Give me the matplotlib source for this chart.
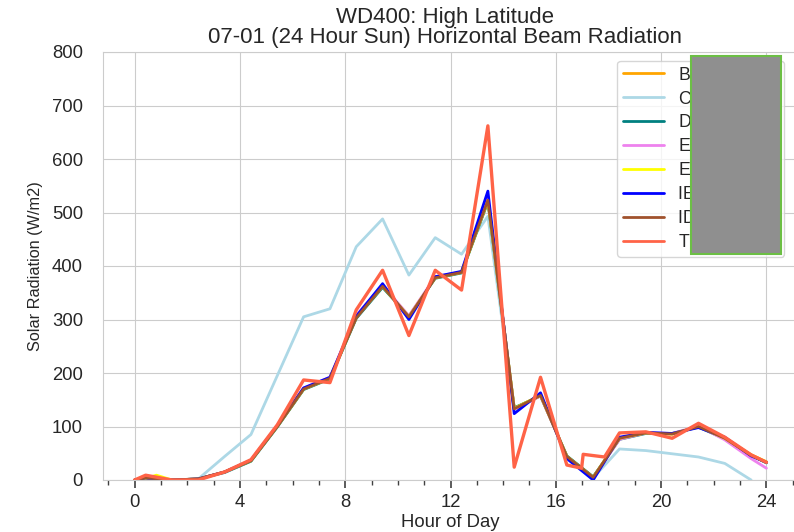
import matplotlib
matplotlib.use('Agg')
import matplotlib.pyplot as plt
import seaborn as sns
from matplotlib.patches import Rectangle
from matplotlib.ticker import MultipleLocator

# Hour of day for each reading (readings sit a little before the half hour)
HOURS = [0, 0.42, 1.42, 2.42, 3.42, 4.42, 5.42, 6.42, 7.42, 8.42, 9.42, 10.42,
         11.42, 12.42, 13.42, 14.42, 15.42, 16.42, 17.42, 18.42, 19.42, 20.42,
         21.42, 22.42, 23.42, 24]
C_HOURS = HOURS[:-1]
E2_HOURS = [0, 0.42, 0.83, 1.42, 2.42, 3.42, 4.42, 5.42, 6.42, 7.42, 8.42, 9.42,
            10.42, 11.42, 12.42, 13.42, 14.42, 15.42, 16.42, 17.42, 18.42, 19.42,
            20.42, 21.42, 22.42, 23.42, 24]
T_HOURS = [0, 0.42, 1.42, 2.42, 3.42, 4.42, 5.42, 6.42, 7.42, 8.42, 9.42, 10.42,
           11.42, 12.42, 13.42, 14.42, 15.42, 16.42, 16.98, 17.04, 17.85, 18.42,
           19.42, 20.42, 21.42, 22.42, 23.42, 24]

# Horizontal beam radiation (W/m2) per program
B = [0, 4, 0, 2, 15, 36, 100, 170, 190, 304, 362, 305, 378, 388, 522, 134, 158,
     44, 5, 78, 88, 86, 100, 78, 47, 34]
C = [0, 0, 0, 2, 44, 85, 195, 305, 320, 436, 488, 383, 453, 422, 493, 132, 158,
     44, 4, 58, 55, 49, 43, 31, 0]
D = [0, 3, 0, 2, 14, 35, 99, 169, 189, 302, 360, 306, 377, 387, 520, 135, 157,
     45, 6, 76, 87, 87, 99, 77, 46, 32]
E1 = [0, 4, 0, 2, 15, 37, 102, 172, 192, 308, 364, 307, 380, 389, 527, 132, 157,
      43, 4, 76, 88, 87, 101, 75, 40, 22]
E2 = [0, 3, 9, 0, 2, 15, 36, 100, 170, 190, 304, 362, 305, 378, 388, 522, 134,
      158, 44, 5, 78, 88, 86, 100, 78, 47, 34]
IE = [0, 4, 0, 2, 15, 37, 101, 172, 192, 306, 367, 300, 380, 390, 540, 124, 163,
      40, 0, 80, 89, 87, 98, 80, 45, 33]
ID = [0, 4, 0, 2, 15, 36, 100, 170, 190, 303, 362, 305, 378, 388, 523, 133, 158,
      44, 5, 78, 88, 86, 100, 78, 46, 33]
T = [0, 9, 0, 0, 15, 38, 103, 187, 182, 318, 392, 270, 392, 355, 662, 24, 192,
     28, 22, 48, 43, 88, 90, 78, 106, 80, 47, 33]

LABELS = ['BSIMAC', 'CSE', 'DeST', 'EnergyPlus1', 'ESP-r', 'IES VE', 'IDA ICE', 'TRNSYS']
COLORS = ['orange', 'lightblue', 'teal', 'violet', 'yellow', 'blue', 'sienna', 'tomato']

sns.set_style('whitegrid')
plt.rcParams['font.family'] = ['Liberation Sans', 'DejaVu Sans']

fig = plt.figure(figsize=(7.94, 5.32), dpi=100)
ax = fig.add_axes([103 / 794, 52 / 532, 695 / 794, 428 / 532])

series = [(HOURS, B), (C_HOURS, C), (HOURS, D), (HOURS, E1), (E2_HOURS, E2),
          (HOURS, IE), (HOURS, ID), (T_HOURS, T)]
for (x, y), label, color in zip(series, LABELS, COLORS):
    lw = 2.4 if label == 'TRNSYS' else 2.0
    ax.plot(x, y, color=color, lw=lw, label=label)

ax.set_ylim(0, 800)
ax.set_yticks(range(0, 801, 100))
ax.xaxis.set_major_locator(MultipleLocator(4))
ax.xaxis.set_minor_locator(MultipleLocator(1))
ax.tick_params(axis='x', which='major', bottom=True, length=6, width=1.2,
               color='.25', labelsize=13.3, pad=4)
ax.tick_params(axis='x', which='minor', bottom=True, length=3.5, width=1,
               color='.25')
ax.tick_params(axis='y', labelsize=13.3, pad=11, colors='.15')
ax.tick_params(axis='x', labelcolor='.15')
ax.grid(which='minor', visible=False)

ax.set_xlabel('Hour of Day', fontsize=13.3, color='.15', labelpad=2)
ax.set_ylabel('Solar Radiation (W/m2)', fontsize=11.7, color='.15', labelpad=6)
ax.set_title('WD400: High Latitude\n07-01 (24 Hour Sun) Horizontal Beam Radiation',
             fontsize=16, color='.15', pad=6.5, linespacing=0.95, x=0.492)

leg = ax.legend(loc='upper right', bbox_to_anchor=(1 - 5 / 695, 1),
                fontsize=12.7, handlelength=2.35,
                labelspacing=0.39, borderpad=0.33, frameon=True)
for line in leg.get_lines():
    line.set_linewidth(2)

# grey block covering the legend names
fig.add_artist(Rectangle((691 / 794, 278 / 532), 90 / 794, 198 / 532,
                         transform=fig.transFigure, facecolor='#8f8f8f',
                         edgecolor='#6cbf45', lw=1.5, zorder=10))

fig.savefig('out.png', dpi=100)
